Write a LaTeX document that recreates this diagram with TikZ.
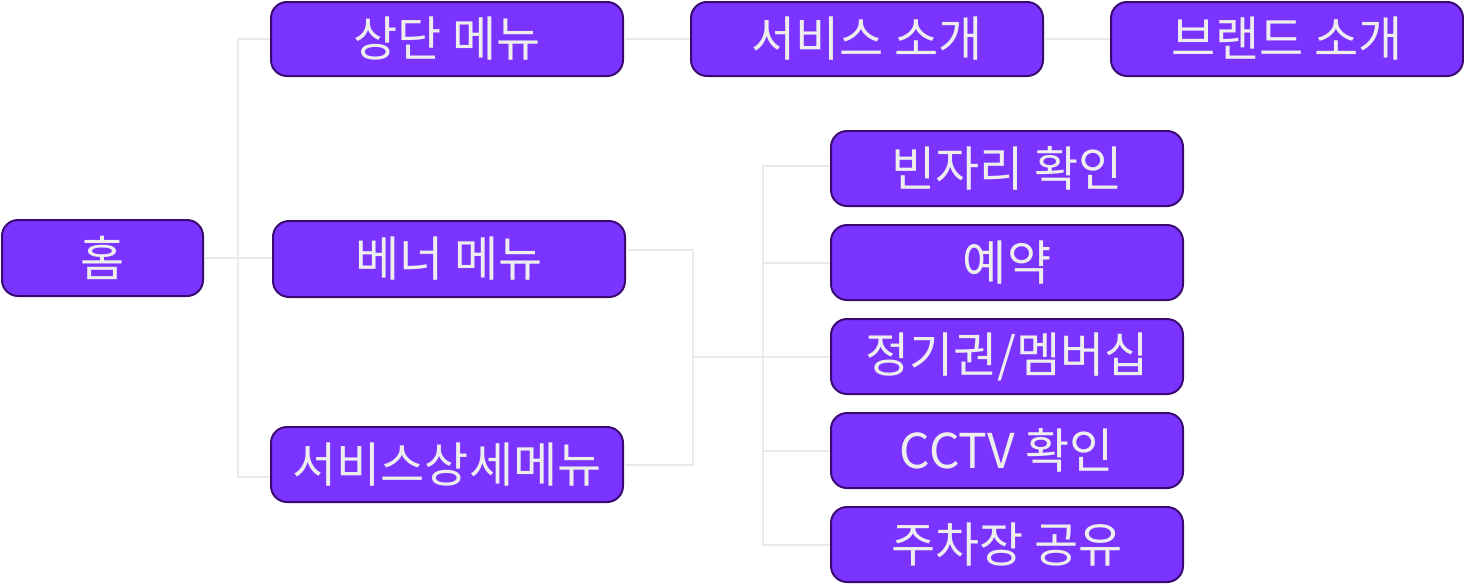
\documentclass[tikz,border=0pt]{standalone}
\usepackage{fontspec}
\newfontfamily\kr{Noto Sans CJK KR}
\usetikzlibrary{calc}
\definecolor{boxfill}{HTML}{7B33FF}
\definecolor{boxline}{HTML}{3A0A72}
\definecolor{boxtext}{HTML}{EEEEEE}
\definecolor{conncol}{HTML}{EAEAEA}
\tikzset{
  menubox/.style={draw=boxline, fill=boxfill, line width=2pt, rounded corners=16pt,
    minimum height=74pt, inner sep=0pt, text=boxtext,
    font=\kr\fontsize{48}{48}\selectfont},
  widebox/.style={menubox, minimum width=352pt},
  conn/.style={draw=conncol, line width=2pt}
}
\begin{document}
\begin{tikzpicture}[x=1pt,y=-1pt]
\useasboundingbox (0,0) rectangle (1464,584);
% junctions
\coordinate (jL) at (238,258);
\coordinate (jM) at (693,357);
\coordinate (vR) at (763,0);
% nodes
\node[menubox, minimum width=201pt, minimum height=76pt] (home) at (102.5,258) {홈};
\node[widebox] (top) at (447,39) {상단 메뉴};
\node[widebox, minimum height=76pt] (banner) at (449,259) {베너 메뉴};
\node[widebox, minimum height=75pt] (svc) at (447,464.5) {서비스상세메뉴};
\node[widebox] (intro) at (867,39) {서비스 소개};
\node[widebox] (brand) at (1287,39) {브랜드 소개};
\node[widebox, minimum height=75pt] (p1) at (1007,168.5) {빈자리 확인};
\node[widebox, minimum height=75pt] (p2) at (1007,262.5) {예약};
\node[widebox, minimum height=75pt] (p3) at (1007,356.5) {정기권/멤버십};
\node[widebox, minimum height=75pt] (p4) at (1007,450.5) {CCTV 확인};
\node[widebox, minimum height=75pt] (p5) at (1007,544.5) {주차장 공유};
% connectors
\draw[conn] (home.east |- jL) -- (jL);
\draw[conn] (top.west) -| (jL) |- ($(svc.west)+(0,12)$);
\draw[conn] (jL) -- (banner.west |- jL);
\draw[conn] (top.east) -- (intro.west);
\draw[conn] (intro.east) -- (brand.west);
\draw[conn] ($(banner.east)+(0,-9)$) -| (jM) |- (svc.east);
\draw[conn] (jM) -- (p3.west |- jM);
\draw[conn] ($(p1.west)+(0,-3)$) -| (p5.west -| vR) -- (p5.west);
\draw[conn] (p2.west) -- (p2.west -| vR);
\draw[conn] (p4.west) -- (p4.west -| vR);
\end{tikzpicture}
\end{document}
